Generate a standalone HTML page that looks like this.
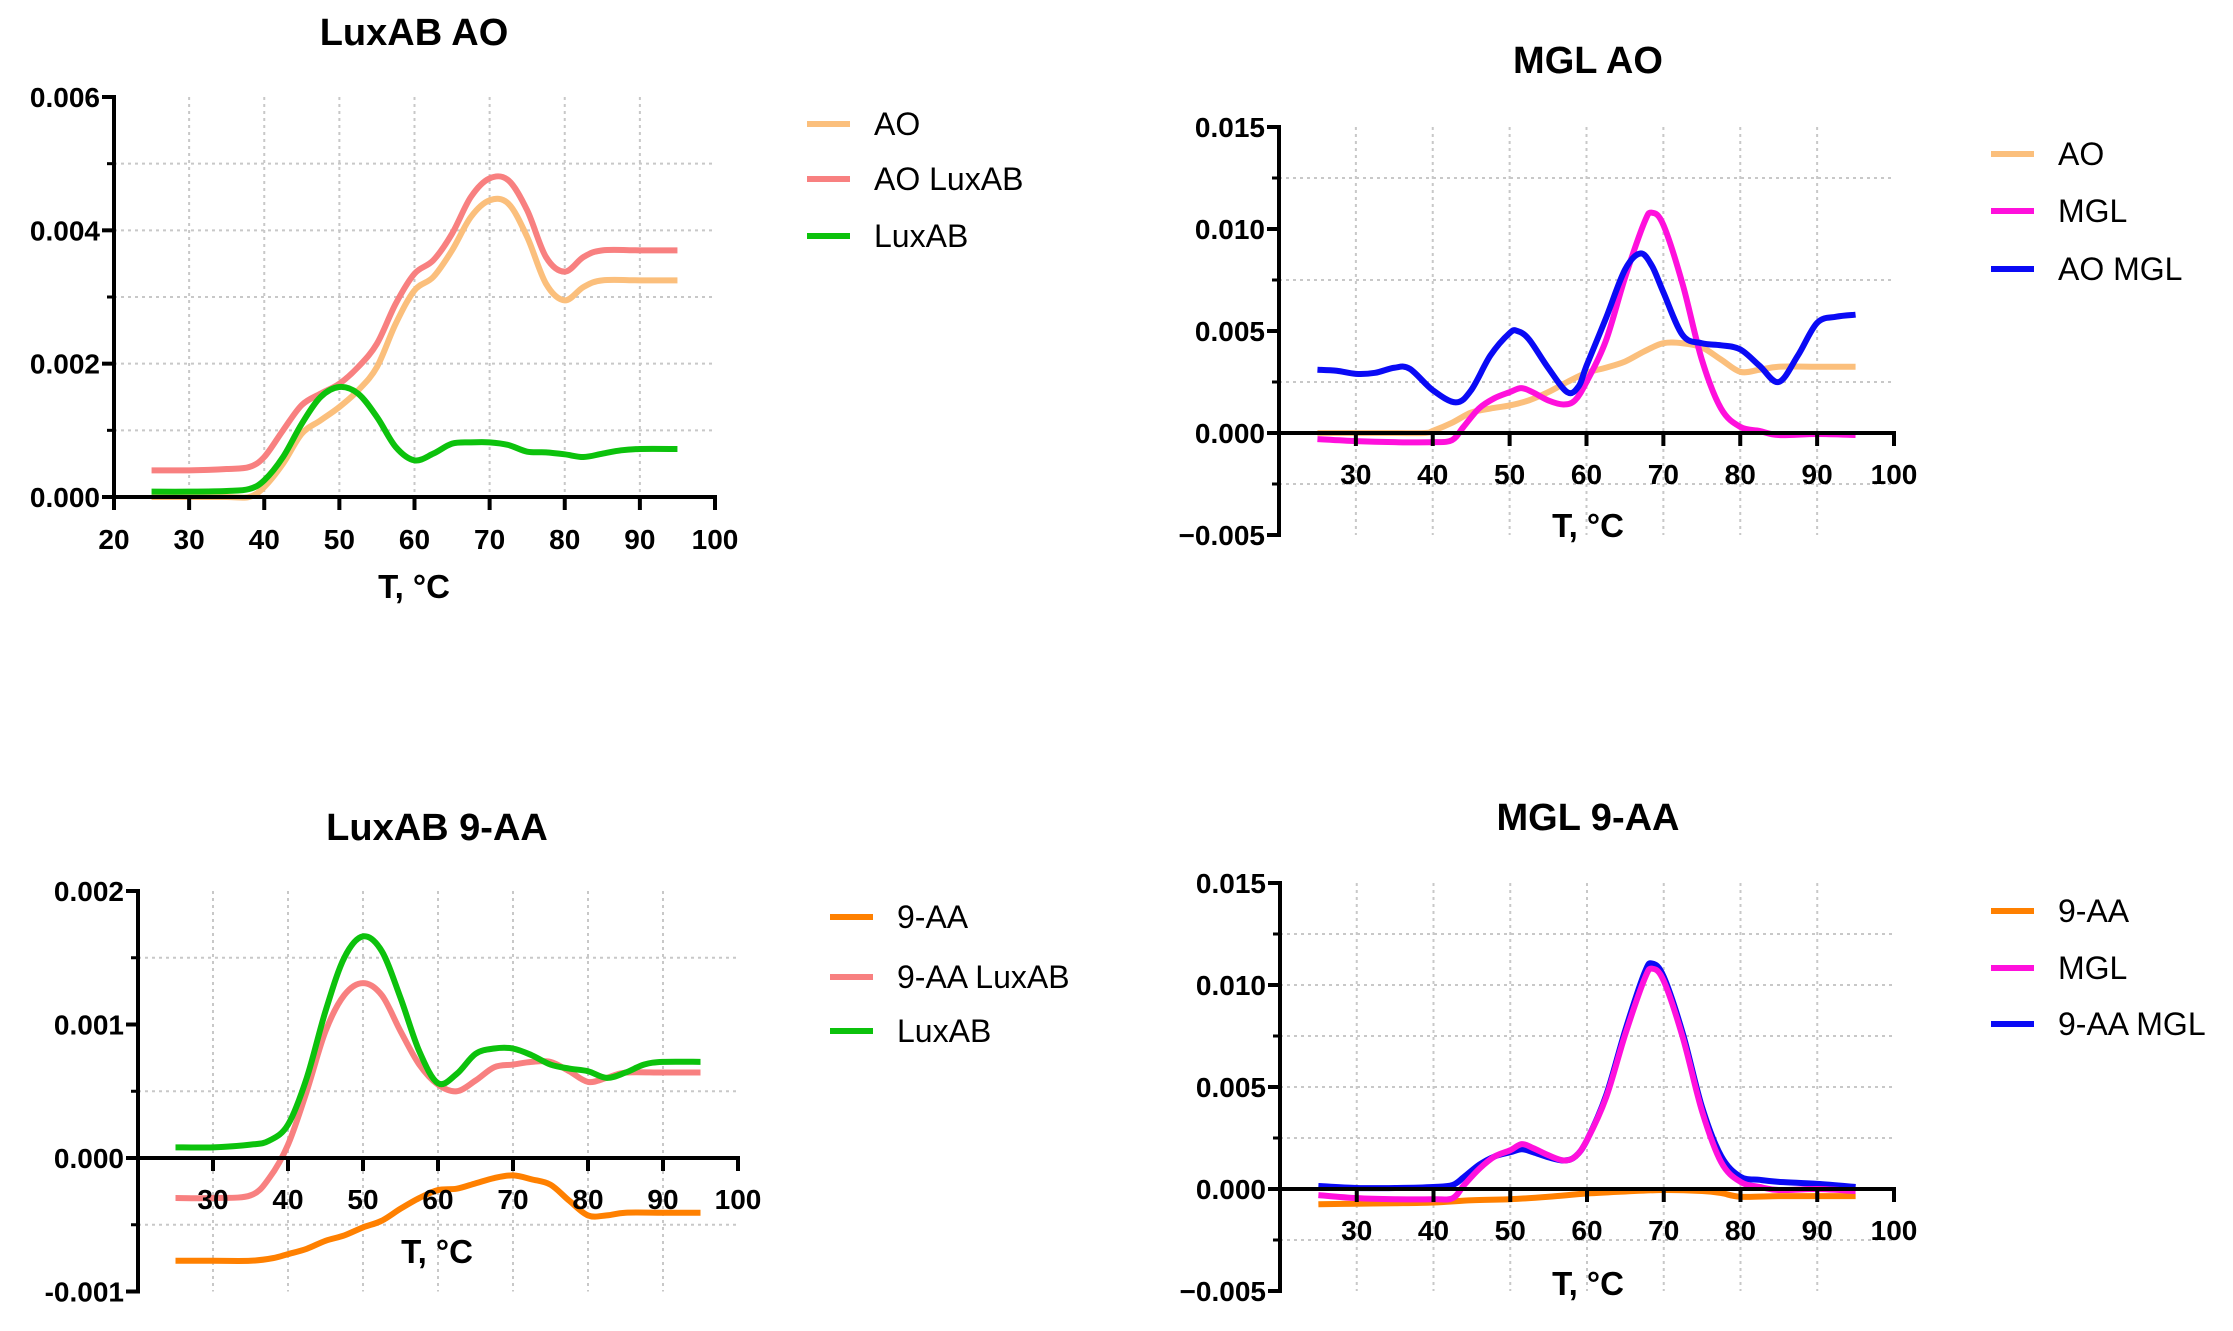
<!DOCTYPE html>
<html><head><meta charset="utf-8"><style>
html,body{margin:0;padding:0;background:#fff;}
svg{display:block;font-family:"Liberation Sans",Arial,sans-serif;font-weight:bold;}
</style></head><body>
<svg id="fig" width="2233" height="1331" viewBox="0 0 2233 1331" xmlns="http://www.w3.org/2000/svg"></svg>
<script>
// ---- data (values in units of 0.001) ----
const p1T_AO=[25,30,35,38,40,42.5,45,47.5,50,52.5,55,57.5,60,62.5,65,67.5,70,72.5,75,77.5,80,82.5,85,90,95];
const p1_AO=[0,0,0,0,0.15,0.5,0.95,1.15,1.35,1.6,1.95,2.6,3.1,3.3,3.7,4.2,4.45,4.4,3.9,3.2,2.95,3.15,3.25,3.25,3.25];
const p1_AOLux=[0.4,0.4,0.42,0.45,0.6,1.0,1.38,1.55,1.7,1.95,2.3,2.9,3.35,3.55,3.95,4.5,4.78,4.75,4.3,3.6,3.38,3.6,3.7,3.7,3.7];
const p1T_Lux=[25,30,35,38,40,42.5,45,47.5,50,52.5,55,57.5,60,62.5,65,67.5,70,72.5,75,77.5,80,82.5,85,87.5,90,95];
const p1_Lux=[0.08,0.08,0.09,0.12,0.25,0.6,1.1,1.5,1.65,1.55,1.2,0.75,0.55,0.65,0.8,0.82,0.82,0.78,0.68,0.67,0.64,0.6,0.65,0.7,0.72,0.72];

const p2T_AO=[25,30,35,39,40,42.5,45,47.5,50,52.5,55,57.5,60,62.5,65,67.5,70,72.5,75,77.5,80,82.5,85,90,95];
const p2_AO=[0,0,0,0,0.1,0.5,1.0,1.2,1.35,1.6,2.0,2.5,2.95,3.2,3.5,4.0,4.4,4.4,4.2,3.6,3.0,3.1,3.25,3.25,3.25];
const p2T_MGL=[25,30,35,40,42.5,44,46,48,50,51.5,53,55,57,58.5,60,62.5,65,67.5,68.5,70,72.5,75,77.5,80,82.5,85,90,95];
const p2_MGL=[-0.3,-0.4,-0.45,-0.45,-0.35,0.3,1.2,1.7,2.0,2.2,2.0,1.6,1.4,1.6,2.5,4.5,7.6,10.3,10.8,10.2,7.3,3.6,1.2,0.3,0.1,-0.1,-0.05,-0.1];
const p2T_AOMGL=[25,27.5,30,32.5,35,37,40,43,45,47.5,50,51,52.5,55,57.5,59,60,62.5,65,67,68.5,70,72.5,75,77.5,80,82.5,85,87.5,90,92.5,95];
const p2_AOMGL=[3.1,3.05,2.9,2.95,3.2,3.15,2.1,1.5,2.1,3.8,4.9,5.0,4.6,3.2,2.0,2.3,3.3,5.6,8.0,8.8,8.2,6.9,4.8,4.4,4.3,4.1,3.3,2.5,3.8,5.4,5.7,5.8];

const p3T_AA=[25,30,35,38,40,42.5,45,47.5,50,52.5,55,57.5,60,62.5,65,67.5,70,72.5,75,77.5,80,82.5,85,90,95];
const p3_AA=[-0.77,-0.77,-0.77,-0.75,-0.72,-0.68,-0.62,-0.58,-0.52,-0.47,-0.38,-0.3,-0.24,-0.23,-0.19,-0.15,-0.13,-0.16,-0.2,-0.32,-0.43,-0.43,-0.41,-0.41,-0.41];
const p3T_AALux=[25,30,35,37.5,40,42.5,45,47.5,50,52.5,55,57.5,60,62.5,65,67.5,70,72.5,75,77.5,80,82.5,85,90,95];
const p3_AALux=[-0.3,-0.3,-0.28,-0.15,0.1,0.5,0.95,1.22,1.31,1.22,0.95,0.7,0.55,0.5,0.58,0.68,0.7,0.72,0.72,0.65,0.57,0.6,0.64,0.64,0.64];
const p3T_Lux=[25,30,35,37.5,40,42.5,45,47.5,50,52.5,55,57.5,60,62.5,65,67.5,70,72.5,75,77.5,80,82.5,85,87.5,90,95];
const p3_Lux=[0.08,0.08,0.1,0.13,0.25,0.6,1.1,1.5,1.66,1.55,1.2,0.8,0.56,0.63,0.78,0.82,0.82,0.77,0.7,0.67,0.65,0.6,0.64,0.7,0.72,0.72];

const p4T_AA=[25,30,35,40,45,50,55,60,65,70,75,77.5,80,85,90,95];
const p4_AA=[-0.75,-0.72,-0.7,-0.66,-0.55,-0.5,-0.38,-0.22,-0.12,-0.05,-0.1,-0.2,-0.38,-0.35,-0.35,-0.35];
const p4T_MGL=[25,30,35,40,42.5,44,46,48,50,51.5,53,55,57,58.5,60,62.5,65,67.5,68.5,70,72.5,75,77.5,80,82.5,85,90,95];
const p4_MGL=[-0.3,-0.45,-0.5,-0.5,-0.45,0.2,1.0,1.6,1.9,2.2,2.0,1.65,1.4,1.6,2.4,4.5,7.6,10.3,10.8,10.2,7.4,3.8,1.3,0.35,0.1,-0.05,0.0,-0.1];
const p4_AAMGL=[0.15,0.05,0.05,0.1,0.2,0.6,1.2,1.6,1.8,1.95,1.8,1.55,1.4,1.6,2.4,4.6,7.8,10.6,11.05,10.4,7.6,4.0,1.6,0.6,0.45,0.35,0.25,0.1];

const xTickVals=[20,30,40,50,60,70,80,90,100];
const NS="http://www.w3.org/2000/svg";
const svg=document.getElementById('fig');
function mk(tag,attrs,parent){const e=document.createElementNS(NS,tag);for(const k in attrs)e.setAttribute(k,attrs[k]);(parent||svg).appendChild(e);return e;}
function smooth(pts){let d=`M${pts[0][0]},${pts[0][1]}`;for(let i=0;i<pts.length-1;i++){const p0=pts[Math.max(0,i-1)],p1=pts[i],p2=pts[i+1],p3=pts[Math.min(pts.length-1,i+2)];const c1x=p1[0]+(p2[0]-p0[0])/6,c1y=p1[1]+(p2[1]-p0[1])/6,c2x=p2[0]-(p3[0]-p1[0])/6,c2y=p2[1]-(p3[1]-p1[1])/6;d+=`C${c1x},${c1y} ${c2x},${c2y} ${p2[0]},${p2[1]}`;}return d;}

function panel(cfg){
  const g=mk('g',{});
  
  
  const X=t=>cfg.x0+(t-20)*(cfg.x1-cfg.x0)/80;
  const Y=v=>cfg.yZero-v*(cfg.yZero-cfg.yTop)/cfg.ymax;
  xTickVals.slice(1,8).forEach(t=>{const l=mk('line',{x1:X(t),x2:X(t),y1:Y(cfg.ymax),y2:Y(cfg.ymin),stroke:'#c8c8c8','stroke-width':2,'stroke-dasharray':'3,4'},g);});
  cfg.grid.forEach(v=>{const l=mk('line',{x1:cfg.x0,x2:cfg.x1,y1:Y(v),y2:Y(v),stroke:'#c8c8c8','stroke-width':2,'stroke-dasharray':'3,4'},g);});
  cfg.series.forEach(s=>{const p=mk('path',{d:smooth(s.t.map((t,i)=>[X(t),Y(s.v[i])])),fill:'none',stroke:s.c,'stroke-width':6,'stroke-linejoin':'round'},g);});
  const ya=mk('line',{x1:cfg.x0,x2:cfg.x0,y1:Y(cfg.ymax)-2,y2:Y(cfg.ymin)+2,stroke:'#000','stroke-width':4},g);
  
  cfg.yMajor.forEach((v,i)=>{mk('line',{x1:cfg.x0-12,x2:cfg.x0,y1:Y(v),y2:Y(v),stroke:'#000','stroke-width':4},g);
    const tx=mk('text',{x:cfg.x0-14,y:Y(v)+10,'text-anchor':'end','font-size':28,fill:'#000'},g);tx.textContent=cfg.yLabels[i];
    });
  cfg.grid.forEach(v=>{if(cfg.yMajor.indexOf(v)<0)mk('line',{x1:cfg.x0-7,x2:cfg.x0,y1:Y(v),y2:Y(v),stroke:'#000','stroke-width':3},g);});
  const xa=mk('line',{x1:cfg.x0,x2:cfg.x1+2,y1:Y(0),y2:Y(0),stroke:'#000','stroke-width':4},g);
  
  xTickVals.forEach(t=>{mk('line',{x1:X(t),x2:X(t),y1:Y(0),y2:Y(0)+13,stroke:'#000','stroke-width':4},g);
    if(t===20&&!cfg.show20)return;
    const tx=mk('text',{x:X(t),y:cfg.xLabY,'text-anchor':'middle','font-size':28,fill:'#000'},g);tx.textContent=t;
    });
  const xt=mk('text',{x:cfg.titleX,y:cfg.xTitleY,'text-anchor':'middle','font-size':33,fill:'#000'},g);xt.textContent='T, °C';
  
  const tt=mk('text',{x:cfg.titleX,y:cfg.titleY,'text-anchor':'middle','font-size':38,fill:'#000'},g);tt.textContent=cfg.title;
  
  cfg.series.forEach(s=>{const ly=cfg.legY[s.leg];
    const le=mk('g',{},g);
    mk('line',{x1:cfg.legX,x2:cfg.legX+43,y1:ly,y2:ly,stroke:s.c,'stroke-width':6},le);
    const tx=mk('text',{x:cfg.legX+67,y:ly+11,'font-size':32,'font-weight':'normal',fill:'#000'},le);tx.textContent=s.label;});
}

panel({name:'chart-luxab-ao',title:'LuxAB AO',titleX:414,titleY:45,x0:114,x1:715,yTop:97,yZero:497,ymax:6,ymin:0,
  yMajor:[6,4,2,0],yLabels:['0.006','0.004','0.002','0.000'],grid:[1,2,3,4,5],show20:true,xLabY:549,xTitleY:598,
  legX:807,legY:[124,179,236],
  series:[{id:'ao',label:'AO',leg:0,c:'#FBBF7C',t:p1T_AO,v:p1_AO},{id:'ao-luxab',label:'AO LuxAB',leg:1,c:'#F88080',t:p1T_AO,v:p1_AOLux},{id:'luxab',label:'LuxAB',leg:2,c:'#0CC20C',t:p1T_Lux,v:p1_Lux}]});
panel({name:'chart-mgl-ao',title:'MGL AO',titleX:1588,titleY:73,x0:1279,x1:1894,yTop:127,yZero:433,ymax:15,ymin:-5,
  yMajor:[15,10,5,0,-5],yLabels:['0.015','0.010','0.005','0.000','−0.005'],grid:[12.5,7.5,2.5,-2.5],show20:false,xLabY:484,xTitleY:537,
  legX:1991,legY:[154,211,269],
  series:[{id:'ao',label:'AO',leg:0,c:'#FBBF7C',t:p2T_AO,v:p2_AO},{id:'mgl',label:'MGL',leg:1,c:'#FF10DC',t:p2T_MGL,v:p2_MGL},{id:'ao-mgl',label:'AO MGL',leg:2,c:'#0A0AF5',t:p2T_AOMGL,v:p2_AOMGL}]});
panel({name:'chart-luxab-9aa',title:'LuxAB 9-AA',titleX:437,titleY:840,x0:138,x1:738,yTop:891,yZero:1158,ymax:2,ymin:-1,
  yMajor:[2,1,0,-1],yLabels:['0.002','0.001','0.000','-0.001'],grid:[1.5,0.5,-0.5],show20:false,xLabY:1209,xTitleY:1263,
  legX:830,legY:[917,977,1031],
  series:[{id:'9aa',label:'9-AA',leg:0,c:'#FF8000',t:p3T_AA,v:p3_AA},{id:'9aa-luxab',label:'9-AA LuxAB',leg:1,c:'#F88080',t:p3T_AALux,v:p3_AALux},{id:'luxab',label:'LuxAB',leg:2,c:'#0CC20C',t:p3T_Lux,v:p3_Lux}]});
panel({name:'chart-mgl-9aa',title:'MGL 9-AA',titleX:1588,titleY:830,x0:1280,x1:1894,yTop:883,yZero:1189,ymax:15,ymin:-5,
  yMajor:[15,10,5,0,-5],yLabels:['0.015','0.010','0.005','0.000','−0.005'],grid:[12.5,10,7.5,5,2.5,-2.5],show20:false,xLabY:1240,xTitleY:1295,
  legX:1991,legY:[911,968,1024],
  series:[{id:'9aa',label:'9-AA',leg:0,c:'#FF8000',t:p4T_AA,v:p4_AA},{id:'9aa-mgl',label:'9-AA MGL',leg:2,c:'#0A0AF5',t:p4T_MGL,v:p4_AAMGL},{id:'mgl',label:'MGL',leg:1,c:'#FF10DC',t:p4T_MGL,v:p4_MGL}]});
</script>
</body></html>
